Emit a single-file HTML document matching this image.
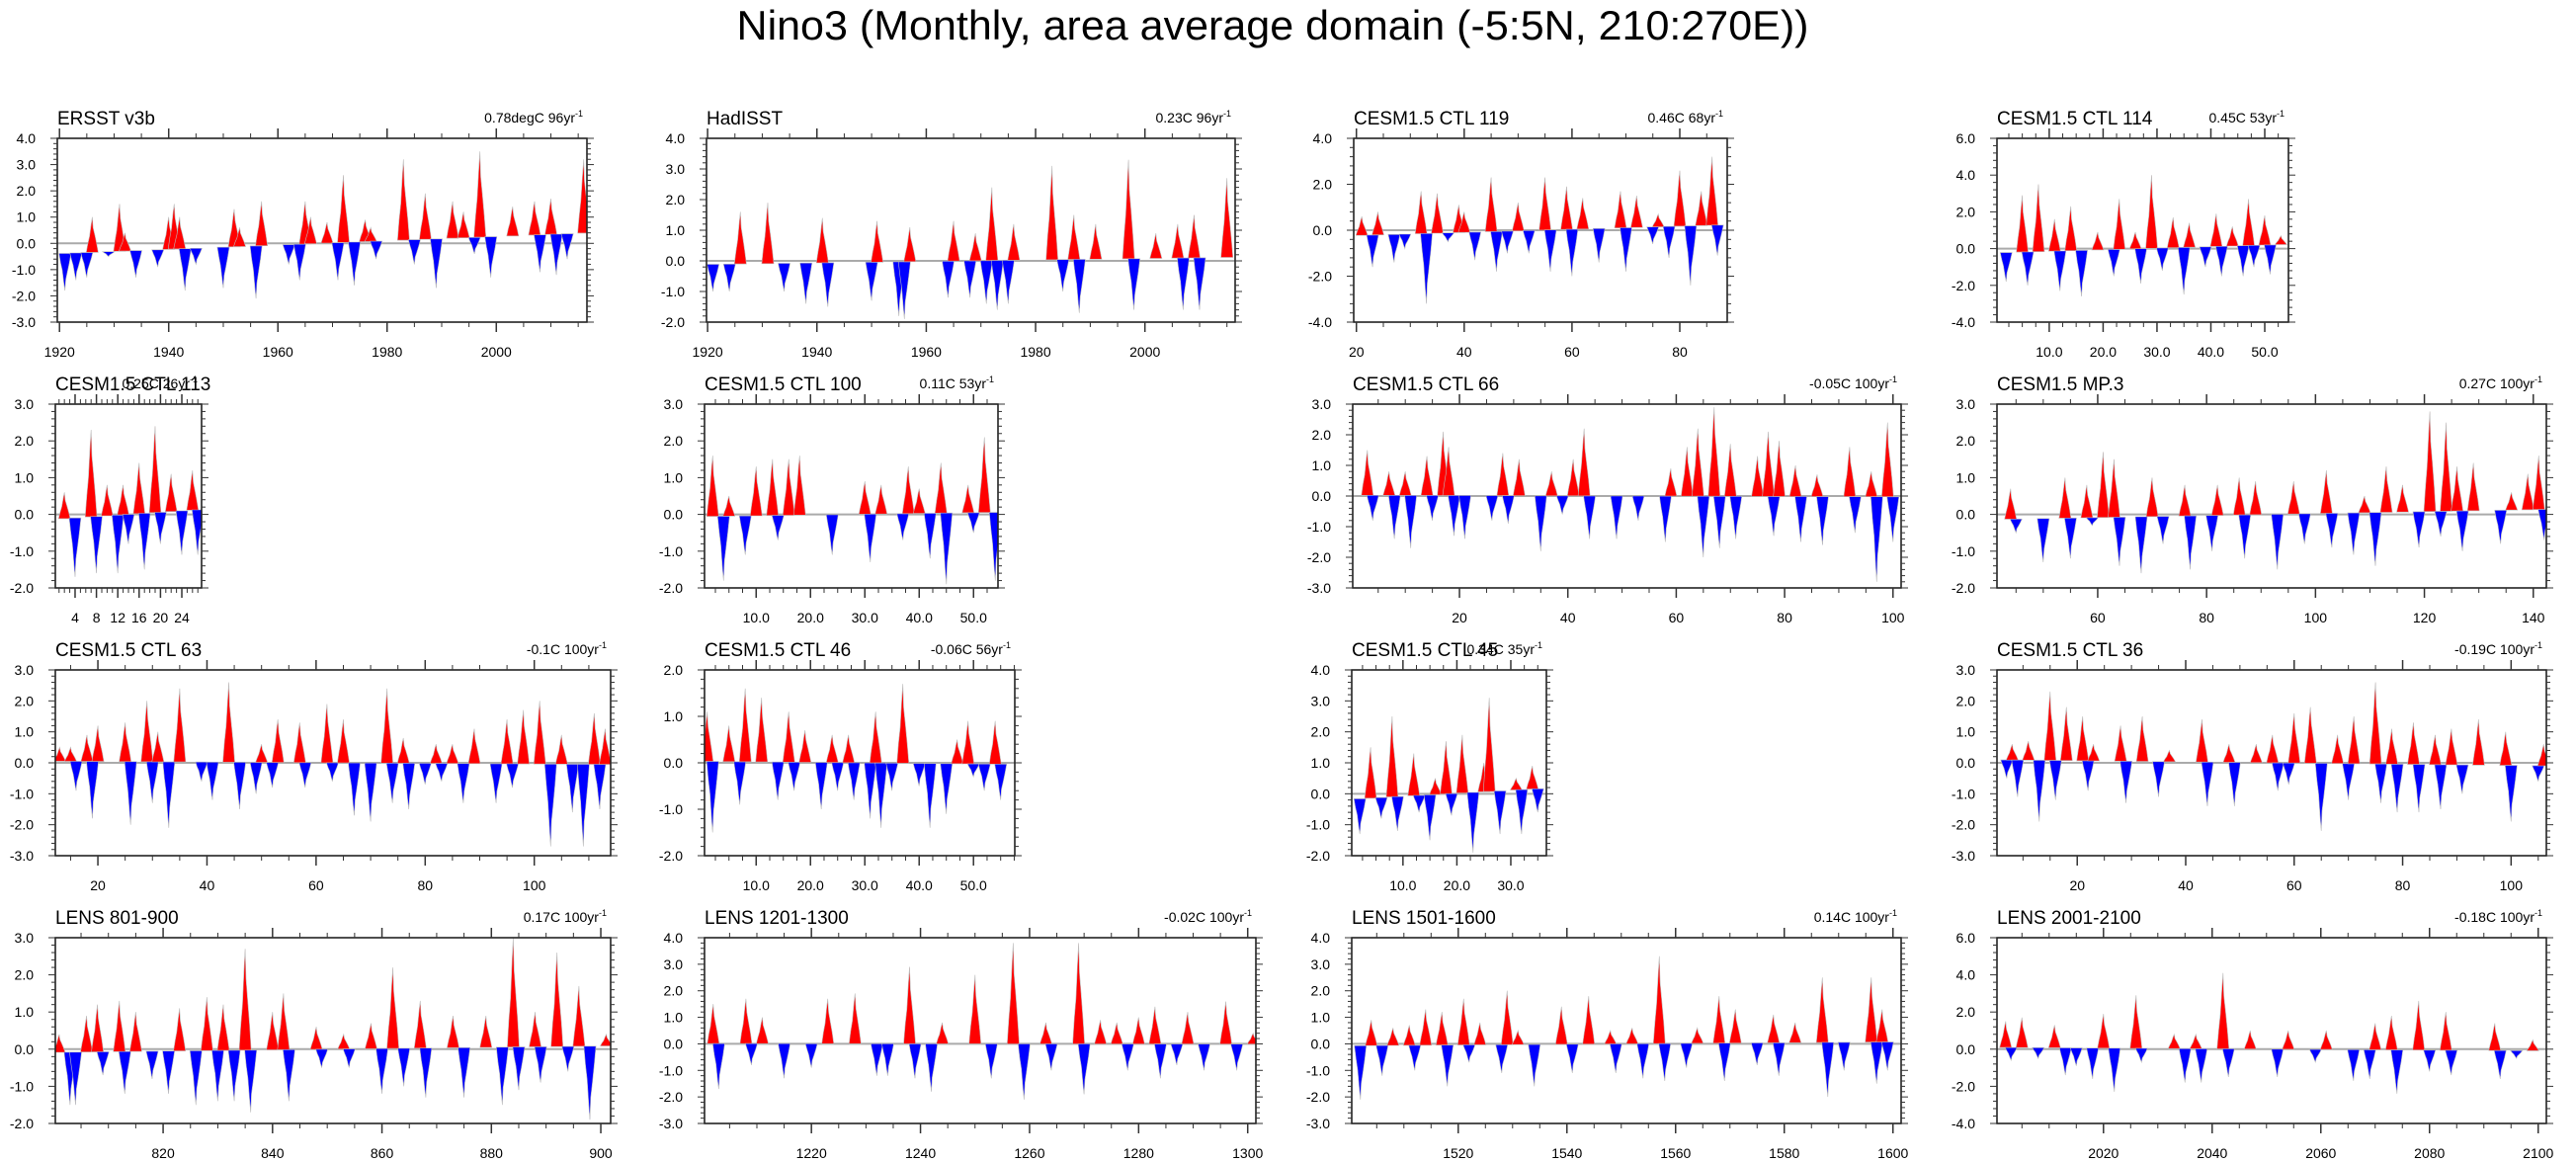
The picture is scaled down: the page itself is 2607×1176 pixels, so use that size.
<!DOCTYPE html>
<html><head><meta charset="utf-8"><style>
html,body{margin:0;padding:0;background:#fff;}
svg{display:block;font-family:"Liberation Sans",sans-serif;}
</style></head><body>
<svg id="fig" width="2607" height="1176" viewBox="0 0 2607 1176" xmlns="http://www.w3.org/2000/svg">
<rect width="2607" height="1176" fill="#fff"/>
<text x="1288" y="40" text-anchor="middle" font-size="42" textLength="1085" lengthAdjust="spacingAndGlyphs">Nino3 (Monthly, area average domain (-5:5N, 210:270E))</text>
</svg>
<script>
// ---- data: event times (years) and anomaly values (degC) per panel ----
const p1Years=[1921,1923,1925,1926,1929,1931,1932,1934,1938,1940,1941,1942,1943,1945,1950,1952,1953,1956,1957,1962,1964,1965,1966,1969,1971,1972,1974,1976,1977,1978,1983,1985,1987,1989,1992,1994,1996,1997,1999,2003,2007,2008,2010,2011,2013,2016];
const p1Vals=[-1.8,-1.4,-1.3,1.0,-0.5,1.5,0.4,-1.3,-0.9,1.0,1.5,1.0,-1.8,-0.8,-1.7,1.3,0.6,-2.1,1.6,-0.8,-1.4,1.6,1.0,0.8,-1.4,2.6,-1.6,0.9,0.6,-0.6,3.2,-0.8,1.9,-1.7,1.6,1.2,-0.4,3.5,-1.3,1.4,1.6,-1.1,1.7,-1.2,-0.6,3.2];
const p2Years=[1921,1924,1926,1931,1934,1938,1941,1942,1950,1951,1955,1956,1957,1964,1965,1968,1969,1971,1972,1973,1975,1976,1983,1985,1987,1988,1991,1997,1998,2002,2006,2007,2009,2010,2015];
const p2Vals=[-1.0,-1.0,1.6,1.9,-1.0,-1.4,1.4,-1.5,-1.3,1.3,-1.8,-1.9,1.1,-1.2,1.3,-1.2,0.9,-1.4,2.4,-1.6,-1.4,1.2,3.1,-1.0,1.5,-1.7,1.2,3.3,-1.6,0.9,1.2,-1.6,1.5,-1.6,2.7];
const p3Years=[21,23,24,27,29,32,33,35,37,39,40,42,45,46,48,50,52,55,56,59,60,62,65,69,70,72,75,76,78,80,82,84,86,87];
const p3Vals=[0.6,-1.6,0.8,-1.4,-0.8,1.7,-3.2,1.6,-0.5,1.1,0.8,-1.3,2.3,-1.8,-1.0,1.2,-1.0,2.3,-1.8,1.9,-2.0,1.4,-1.4,1.7,-1.8,1.5,-0.6,0.7,-1.2,2.6,-2.4,1.7,3.2,-1.1];
const p4Years=[2,5,6,8,11,12,14,16,19,22,23,26,27,29,31,33,35,36,39,41,42,44,46,47,48,50,51,53];
const p4Vals=[-1.8,2.9,-2.0,3.5,1.6,-2.3,2.3,-2.6,0.9,-1.5,2.7,0.9,-1.9,4.0,-1.2,1.7,-2.5,1.4,-1.0,1.9,-1.5,1.2,-1.5,2.7,-1.0,1.8,-1.4,0.7];
const p5Years=[2,4,7,8,10,12,13,14,16,17,19,20,22,24,26,27];
const p5Vals=[0.6,-1.7,2.3,-1.6,0.8,-1.6,0.8,-0.8,1.4,-1.5,2.4,-0.8,1.1,-1.1,1.2,-1.1];
const p6Years=[2,4,5,8,10,13,14,16,18,24,30,31,33,37,38,40,42,44,45,49,50,52,54];
const p6Vals=[1.6,-1.8,0.5,-1.1,1.3,1.5,-0.7,1.5,1.6,-1.1,0.9,-1.3,0.8,-0.7,1.3,0.7,-1.2,1.4,-1.9,0.8,-0.5,2.1,-1.8];
const p7Years=[3,4,7,8,10,11,14,15,17,18,19,21,26,28,29,31,35,37,39,41,43,44,49,53,58,59,62,64,65,67,68,70,71,75,77,78,79,82,83,86,87,92,93,96,97,99,100];
const p7Vals=[1.5,-0.8,0.8,-1.4,0.8,-1.7,1.3,-0.8,2.1,1.6,-1.3,-1.4,-0.8,1.4,-0.9,1.2,-1.8,0.8,-0.6,1.2,2.2,-1.4,-1.4,-0.8,-1.5,0.9,1.6,2.2,-2.0,2.9,-1.7,1.7,-1.4,1.3,2.1,-1.3,1.8,1.0,-1.5,0.7,-1.6,1.6,-1.2,0.8,-2.8,2.4,-1.5];
const p8Years=[44,45,50,54,55,58,59,61,63,64,68,70,72,76,77,81,82,86,87,89,93,96,98,102,103,107,109,111,113,116,119,121,123,124,126,127,129,134,136,139,141,142];
const p8Vals=[0.7,-0.5,-1.3,1.0,-1.2,0.8,-0.3,1.7,1.5,-1.4,-1.6,1.0,-0.8,0.8,-1.5,-1.0,0.8,1.0,-1.2,0.9,-1.5,0.9,-0.8,1.2,-0.9,-1.1,0.5,-1.4,1.3,0.8,-0.9,2.8,-0.6,2.5,1.3,-1.0,1.4,-0.8,0.6,1.1,1.6,-0.7];
const p9Years=[13,15,16,18,19,20,25,26,29,30,31,33,35,39,41,44,46,49,50,52,53,57,58,62,63,65,67,70,73,74,76,77,80,82,83,85,87,89,93,95,96,98,101,103,105,107,109,111,112,113];
const p9Vals=[0.5,0.5,-0.9,0.9,-1.8,1.2,1.3,-2.0,2.0,-1.3,1.0,-2.1,2.4,-0.6,-1.2,2.6,-1.5,-1.0,0.6,-0.8,1.4,1.3,-0.8,1.9,-0.6,1.4,-1.7,-1.9,2.4,-1.3,0.8,-1.5,-0.7,0.6,-0.6,0.6,-1.3,1.1,-1.3,1.4,-0.8,1.7,2.0,-2.7,0.9,-1.6,-2.7,1.6,-1.5,1.1];
const p10Years=[1,2,5,7,8,11,14,16,17,19,22,24,25,27,28,31,32,33,35,37,40,42,45,47,49,50,52,54,55];
const p10Vals=[1.1,-1.5,0.8,-0.9,1.6,1.4,-0.8,1.1,-0.6,0.7,-1.0,0.6,-0.6,0.6,-0.8,-1.2,1.1,-1.4,-0.6,1.7,-0.5,-1.4,-1.1,0.5,0.9,-0.3,-0.6,0.9,-0.8];
const p11Years=[2,4,6,8,9,12,13,15,16,18,19,21,23,25,26,28,31,32,34,35];
const p11Vals=[-1.3,1.5,-0.8,2.5,-1.2,1.3,-0.6,-1.5,0.5,1.7,-0.7,1.9,-1.9,1.0,3.1,-1.3,0.5,-1.3,0.9,-0.6];
const p12Years=[7,8,9,11,13,15,16,18,21,22,23,28,29,32,35,37,43,44,48,49,53,56,57,59,60,63,65,68,70,71,75,76,78,79,82,83,86,87,89,91,94,99,100,105,106];
const p12Vals=[-0.5,0.6,-1.1,0.7,-1.9,2.3,-1.2,1.8,1.5,-0.9,0.6,1.2,-1.3,1.5,-1.1,0.4,1.4,-1.4,0.6,-1.4,0.6,0.9,-0.9,-0.7,1.6,1.8,-2.2,0.9,-1.2,1.5,2.6,-1.3,1.1,-1.6,1.3,-1.6,0.9,-1.5,1.1,-1.0,1.4,1.0,-1.9,-0.6,0.6];
const p13Years=[801,803,804,806,808,809,812,813,815,818,821,823,826,828,830,831,833,835,836,840,842,843,848,849,853,854,858,860,862,864,867,868,873,875,879,882,884,885,888,889,892,894,896,898,901];
const p13Vals=[0.4,-1.5,-1.5,0.9,1.2,-0.7,1.3,-1.2,1.0,-0.8,-1.2,1.1,-1.5,1.4,-1.4,1.2,-1.4,2.7,-1.7,1.0,1.5,-1.4,0.6,-0.5,0.4,-0.5,0.7,-1.2,2.2,-1.0,1.3,-1.3,0.9,-1.3,0.9,-1.5,3.0,-1.1,1.0,-0.9,2.6,-0.6,1.7,-1.9,0.4];
const p14Years=[1202,1203,1208,1209,1211,1215,1220,1223,1228,1232,1234,1238,1239,1242,1244,1250,1253,1257,1259,1263,1264,1269,1270,1273,1276,1278,1280,1283,1284,1287,1289,1292,1296,1298,1301];
const p14Vals=[1.5,-1.7,1.7,-0.8,1.0,-1.3,-0.9,1.7,1.9,-1.2,-1.2,2.9,-1.3,-1.8,0.8,2.6,-1.3,3.8,-2.1,0.8,-1.0,3.8,-1.9,0.9,0.8,-1.0,1.0,1.4,-1.3,-0.8,1.2,-1.0,1.6,-1.0,0.4];
const p15Years=[1502,1504,1506,1508,1511,1512,1514,1517,1518,1521,1522,1524,1528,1529,1531,1534,1539,1541,1544,1548,1549,1552,1554,1557,1558,1562,1564,1568,1569,1571,1575,1578,1579,1582,1587,1588,1591,1596,1597,1598,1599];
const p15Vals=[-2.1,0.9,-1.2,0.6,0.7,-1.0,1.3,1.2,-1.6,1.7,-0.7,0.8,-1.1,2.0,0.5,-1.6,1.4,-1.1,1.8,0.5,-1.1,0.6,-1.3,3.3,-1.4,-0.9,0.6,1.8,-1.4,1.3,-0.8,1.1,-1.2,0.8,2.5,-2.0,-1.0,2.5,-1.5,1.3,-1.0];
const p16Years=[2002,2003,2005,2008,2011,2013,2015,2018,2020,2022,2026,2027,2033,2035,2037,2038,2042,2043,2047,2052,2054,2059,2061,2066,2069,2070,2073,2074,2078,2080,2083,2084,2092,2093,2096,2099];
const p16Vals=[1.5,-0.6,1.7,-0.5,1.3,-1.4,-0.9,-1.6,1.9,-2.3,2.9,-0.7,0.8,-1.8,0.8,-1.8,4.1,-1.5,1.0,-1.5,1.0,-0.7,1.0,-1.7,-1.6,1.4,1.8,-2.4,2.6,-1.2,2.0,-1.4,1.4,-1.6,-0.5,0.5];
const panelTitles=["ERSST v3b","HadISST","CESM1.5 CTL 119","CESM1.5 CTL 114","CESM1.5 CTL 113","CESM1.5 CTL 100","CESM1.5 CTL 66","CESM1.5 MP.3","CESM1.5 CTL 63","CESM1.5 CTL 46","CESM1.5 CTL 45","CESM1.5 CTL 36","LENS 801-900","LENS 1201-1300","LENS 1501-1600","LENS 2001-2100"];
const trendValues=[0.78,0.23,0.46,0.45,0.25,0.11,-0.05,0.27,-0.1,-0.06,0.34,-0.19,0.17,-0.02,0.14,-0.18];
const trendUnits=["degC 96yr","C 96yr","C 68yr","C 53yr","C 26yr","C 53yr","C 100yr","C 100yr","C 100yr","C 56yr","C 35yr","C 100yr","C 100yr","C 100yr","C 100yr","C 100yr"];
const trendSpans=[96,96,68,53,26,53,100,100,100,56,35,100,100,100,100,100];
const xTickVals=[[1920,1940,1960,1980,2000],[1920,1940,1960,1980,2000],[20,40,60,80],[10,20,30,40,50],[4,8,12,16,20,24],[10,20,30,40,50],[20,40,60,80,100],[60,80,100,120,140],[20,40,60,80,100],[10,20,30,40,50],[10,20,30],[20,40,60,80,100],[820,840,860,880,900],[1220,1240,1260,1280,1300],[1520,1540,1560,1580,1600],[2020,2040,2060,2080,2100]];
const xTickDecimals=[0,0,0,1,0,1,0,0,0,1,1,0,0,0,0,0];
const yRanges=[[-3,4,1],[-2,4,1],[-4,4,2],[-4,6,2],[-2,3,1],[-2,3,1],[-3,3,1],[-2,3,1],[-3,3,1],[-2,2,1],[-2,4,1],[-3,3,1],[-2,3,1],[-3,4,1],[-3,4,1],[-4,6,2]];
const xRanges=[[1919.6,2016.6],[1919.8,2016.5],[19.5,88.8],[0.3,54.4],[0.3,27.7],[0.5,54.5],[0.3,101.5],[41.5,142.4],[12.2,114],[0.5,57.6],[0.5,36.6],[5.2,106.5],[800.3,901.8],[1200.4,1301.5],[1500.4,1601.5],[2000.4,2101.5]];
const allYears=[p1Years,p2Years,p3Years,p4Years,p5Years,p6Years,p7Years,p8Years,p9Years,p10Years,p11Years,p12Years,p13Years,p14Years,p15Years,p16Years];
const allVals=[p1Vals,p2Vals,p3Vals,p4Vals,p5Vals,p6Vals,p7Vals,p8Vals,p9Vals,p10Vals,p11Vals,p12Vals,p13Vals,p14Vals,p15Vals,p16Vals];

// ---- layout ----
const boxesX=[[58,594],[715,1250],[1370,1748],[2021,2316],[56,204],[713,1010],[1369,1924],[2021,2577],[56,618],[713,1027],[1368,1565],[2021,2577],[56,618],[713,1271],[1368,1924],[2021,2577]];
const rowsY=[[140,326],[409,595],[678,866],[949,1137]];
const NS="http://www.w3.org/2000/svg";
const svg=document.getElementById('fig');
function mk(tag,attrs,parent){const e=document.createElementNS(NS,tag);for(const k in attrs)e.setAttribute(k,attrs[k]);(parent||svg).appendChild(e);return e;}

for(let p=0;p<16;p++){
  const [L,R]=boxesX[p];const [T,B]=rowsY[Math.floor(p/4)];
  const [x0,x1]=xRanges[p];const [y0,y1,ys]=yRanges[p];
  const X=v=>L+(v-x0)/(x1-x0)*(R-L);
  const Y=v=>B-(v-y0)/(y1-y0)*(B-T);
  const g=mk('g',{});
  
  
  const clipId='clip'+p;
  const cp=mk('clipPath',{id:clipId},g);mk('rect',{x:L,y:T,width:R-L,height:B-T},cp);
  const plot=mk('g',{'clip-path':'url(#'+clipId+')'},g);
  const tmid=(x0+x1)/2, slope=trendValues[p]/trendSpans[p];
  const base=t=>slope*(t-tmid);
  const z=mk('line',{x1:L,x2:R,y1:Y(0),y2:Y(0),stroke:'#aaa','stroke-width':2},plot);
  
  
  const yrs=allYears[p],vals=allVals[p];
  for(let i=0;i<yrs.length;i++){
    const t=yrs[i],v=vals[i],b=base(t);const d=v-b;
    const pts=[[t-1.1,b],[t-0.8,b+d*0.25],[t-0.5,b+d*0.45],[t-0.2,b+d*0.8],[t,b+d],[t+0.15,b+d*0.7],[t+0.45,b+d*0.5],[t+0.8,b+d*0.25],[t+1.1,b]];
    const s=pts.map(q=>X(q[0]).toFixed(1)+','+Y(q[1]).toFixed(1)).join(' ');
    const poly=mk('polygon',{points:s,fill:d>=0?'#ff0000':'#0000ff',stroke:'#bbb','stroke-width':0.6},plot);
    
    
  }
  const fr=mk('rect',{x:L,y:T,width:R-L,height:B-T,fill:'none',stroke:'#222','stroke-width':1.6},g);
  
  
  const nMinor=Math.round((y1-y0)/ys*5);
  for(let k=0;k<=nMinor;k++){
    const v=y0+k*ys/5;
    const isMaj=k%5===0;const len=isMaj?7:4;
    mk('line',{x1:L-len,x2:L,y1:Y(v),y2:Y(v),stroke:'#333','stroke-width':1},g);
    mk('line',{x1:R,x2:R+len,y1:Y(v),y2:Y(v),stroke:'#333','stroke-width':1},g);
    if(isMaj){let vv=Math.round(v*10)/10;if(Math.abs(vv)<1e-9)vv=0;
      const tl=mk('text',{x:L-22,y:Y(v)+5,'text-anchor':'end','font-size':14},g);tl.textContent=vv.toFixed(1);
      
      }
  }
  const xt=xTickVals[p];const step=xt[1]-xt[0];const minorX=step/4;
  const kStart=Math.ceil(x0/minorX-1e-9),kEnd=Math.floor(x1/minorX+1e-9);
  for(let k=kStart;k<=kEnd;k++){
    const v=k*minorX;
    const isMaj=k%4===0;const len=isMaj?10:5;
    mk('line',{x1:X(v),x2:X(v),y1:B,y2:B+len,stroke:'#333','stroke-width':isMaj?1.5:1},g);
    mk('line',{x1:X(v),x2:X(v),y1:T-len,y2:T,stroke:'#333','stroke-width':isMaj?1.5:1},g);
  }
  for(const v of xt){
    const tl=mk('text',{x:X(v),y:B+35,'text-anchor':'middle','font-size':14},g);tl.textContent=v.toFixed(xTickDecimals[p]);
    
    
  }
  const tt=mk('text',{x:L,y:T-14,'font-size':19},g);tt.textContent=panelTitles[p];
  
  
  const tr=mk('text',{x:R-4,y:T-16,'text-anchor':'end','font-size':14},g);
  
  
  const t1=mk('tspan',{},tr);t1.textContent=trendValues[p]+trendUnits[p];
  const t2=mk('tspan',{dy:-6,'font-size':9},tr);t2.textContent='-1';
}
</script>
</body></html>
